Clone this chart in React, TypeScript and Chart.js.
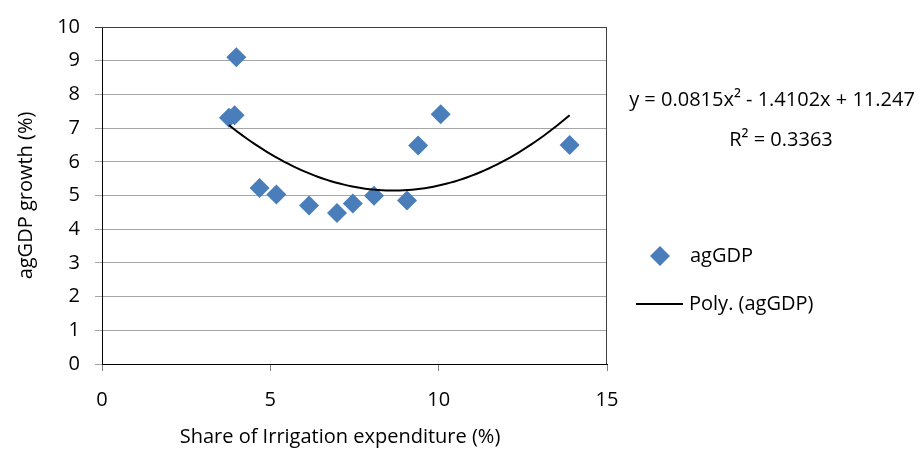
import React, { useEffect, useRef } from "react";
import { Chart, registerables } from "chart.js";

Chart.register(...registerables);

// Share of irrigation expenditure (%) and agricultural GDP growth (%)
const irrigationShare = [3.99, 3.77, 3.94, 4.68, 5.18, 6.15, 6.98, 7.45, 8.08, 9.06, 9.39, 10.06, 13.89];
const agGdpGrowth = [9.1, 7.31, 7.38, 5.22, 5.03, 4.7, 4.48, 4.76, 4.99, 4.85, 6.48, 7.41, 6.5];

// Second-order polynomial trend line as stated in the equation label
const trendA = 0.0815;
const trendB = -1.4102;
const trendC = 11.247;
const trendR2 = 0.3363;

const xTicks = [0, 5, 10, 15];
const yTicks = [0, 1, 2, 3, 4, 5, 6, 7, 8, 9, 10];

const seriesLabel = "agGDP";
const trendLabel = "Poly. (agGDP)";
const xTitle = "Share of Irrigation expenditure (%)";
const yTitle = "agGDP growth (%)";

const FONT = "'Open Sans', 'Noto Sans', sans-serif";
const MARKER = "#4A7EBB";

export default function App() {
  const canvasRef = useRef<HTMLCanvasElement | null>(null);

  useEffect(() => {
    document.body.style.margin = "0";
    const canvas = canvasRef.current;
    if (!canvas) return;

    const points = irrigationShare.map((x, i) => ({ x, y: agGdpGrowth[i] }));
    const xMin = Math.min(...irrigationShare);
    const xMax = Math.max(...irrigationShare);
    const steps = 80;
    const curve = [] as { x: number; y: number }[];
    for (let i = 0; i <= steps; i++) {
      const x = xMin + ((xMax - xMin) * i) / steps;
      curve.push({ x, y: trendA * x * x + trendB * x + trendC });
    }

    const sign = (v: number) => (v < 0 ? "- " : "+ ");
    const equation = `y = ${trendA}x² ${sign(trendB)}${Math.abs(trendB)}x ${sign(trendC)}${Math.abs(trendC)}`;

    const overlay = {
      id: "overlay",
      afterDraw(chart: any) {
        const ctx = chart.ctx as CanvasRenderingContext2D;
        const area = chart.chartArea;
        ctx.save();
        // plot frame (top and right edges)
        ctx.strokeStyle = "#404040";
        ctx.lineWidth = 1;
        ctx.beginPath();
        ctx.moveTo(area.left, area.top + 0.5);
        ctx.lineTo(area.right - 0.5, area.top + 0.5);
        ctx.lineTo(area.right - 0.5, area.bottom);
        ctx.stroke();

        ctx.fillStyle = "#000";
        ctx.font = `20px ${FONT}`;
        ctx.textBaseline = "middle";

        // x axis title
        ctx.textAlign = "center";
        ctx.fillText(xTitle, 340, 437);

        // trend equation
        ctx.fillText(equation, 772, 100);
        ctx.fillText(`R² = ${trendR2}`, 781, 140);

        // legend
        const ds0 = chart.data.datasets[0];
        const ds1 = chart.data.datasets[1];
        ctx.fillStyle = MARKER;
        ctx.beginPath();
        ctx.moveTo(660 - 10, 256);
        ctx.lineTo(660, 246);
        ctx.lineTo(670, 256);
        ctx.lineTo(660, 266);
        ctx.closePath();
        ctx.fill();
        ctx.fillStyle = "#000";
        ctx.textAlign = "left";
        ctx.fillText(ds0.label, 690, 256);

        ctx.strokeStyle = "#000";
        ctx.lineWidth = 2;
        ctx.beginPath();
        ctx.moveTo(636, 304);
        ctx.lineTo(683, 304);
        ctx.stroke();
        ctx.fillText(ds1.label, 689, 304);
        ctx.restore();
      },
    };

    const chart = new Chart(canvas, {
      type: "scatter",
      data: {
        datasets: [
          {
            type: "scatter",
            label: seriesLabel,
            data: points,
            pointStyle: "rectRot",
            pointRadius: 10,
            pointHoverRadius: 10,
            backgroundColor: MARKER,
            borderColor: MARKER,
            borderWidth: 0,
            order: 1,
          },
          {
            type: "line",
            label: trendLabel,
            data: curve,
            borderColor: "#000",
            borderWidth: 2,
            pointRadius: 0,
            fill: false,
            tension: 0,
            order: 0,
          },
        ],
      } as any,
      options: {
        responsive: false,
        animation: false,
        events: [],
        layout: { padding: { top: 21, right: 314, left: 0, bottom: 0 } },
        plugins: { legend: { display: false }, tooltip: { enabled: false } },
        scales: {
          x: {
            type: "linear",
            min: 0,
            max: 15,
            afterBuildTicks: (s: any) => {
              s.ticks = xTicks.map((v) => ({ value: v }));
            },
            afterFit: (s: any) => {
              s.height = 89;
            },
            ticks: {
              color: "#000",
              font: { family: FONT, size: 20 },
              padding: 17,
            },
            grid: { drawOnChartArea: false, drawTicks: true, tickLength: 7, color: "#808080" },
            border: { color: "#000", width: 1 },
          },
          y: {
            type: "linear",
            min: 0,
            max: 10,
            afterBuildTicks: (s: any) => {
              s.ticks = yTicks.map((v) => ({ value: v }));
            },
            afterFit: (s: any) => {
              s.width = 102;
            },
            ticks: {
              color: "#000",
              font: { family: FONT, size: 20 },
              padding: 15,
            },
            grid: {
              drawTicks: true,
              tickLength: 7,
              color: (c: any) => (c.tick && c.tick.value === 10 ? "#404040" : "#A6A6A6"),
              lineWidth: 1,
            },
            border: { color: "#000", width: 1 },
            title: {
              display: true,
              text: yTitle,
              color: "#000",
              font: { family: FONT, size: 20 },
              padding: { top: 14, bottom: 0 },
            },
          },
        },
      } as any,
      plugins: [overlay],
    });

    return () => chart.destroy();
  }, []);

  return (
    <div style={{ width: 921, height: 453, background: "#fff" }}>
      <canvas ref={canvasRef} width={921} height={453} />
    </div>
  );
}
